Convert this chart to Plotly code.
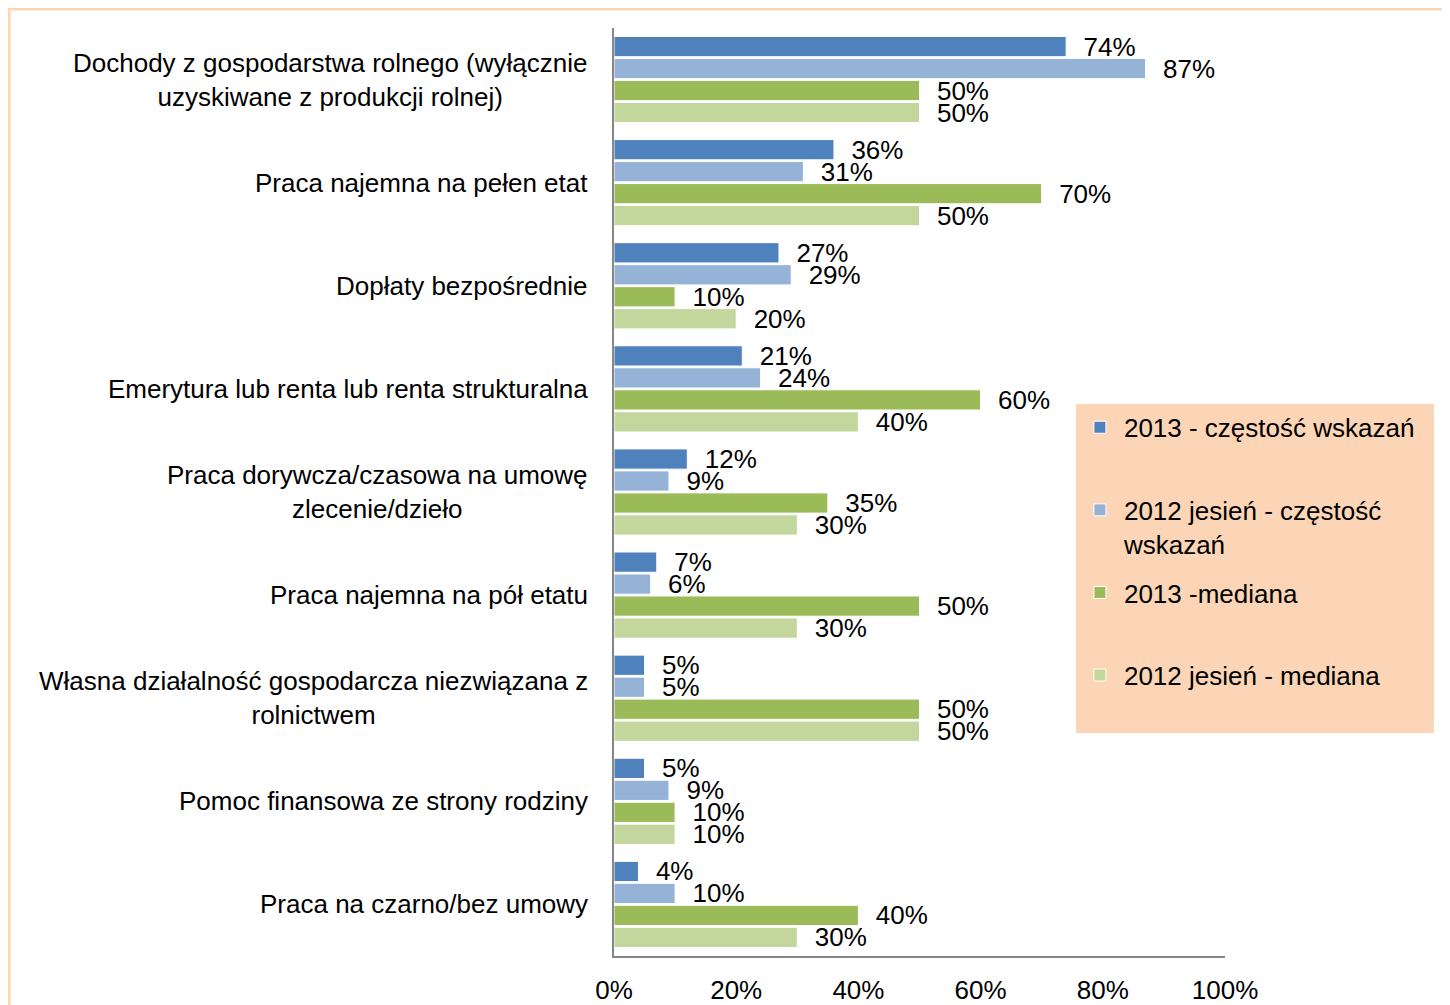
import plotly.graph_objects as go

categories = [
    "Dochody z gospodarstwa rolnego (wyłącznie<br>uzyskiwane z produkcji rolnej)",
    "Praca najemna na pełen etat",
    "Dopłaty bezpośrednie",
    "Emerytura lub renta lub renta strukturalna",
    "Praca dorywcza/czasowa na umowę<br>zlecenie/dzieło",
    "Praca najemna na pół etatu",
    "Własna działalność gospodarcza niezwiązana z<br>rolnictwem",
    "Pomoc finansowa ze strony rodziny",
    "Praca na czarno/bez umowy",
]

series_names = [
    "2013 - częstość wskazań\u00a0\u00a0",
    "2012 jesień - częstość<br>wskazań",
    "2013 -mediana",
    "2012 jesień - mediana",
]

freq_2013 = [74, 36, 27, 21, 12, 7, 5, 5, 4]
freq_2012 = [87, 31, 29, 24, 9, 6, 5, 9, 10]
median_2013 = [50, 70, 10, 60, 35, 50, 50, 10, 40]
median_2012 = [50, 50, 20, 40, 30, 30, 50, 10, 30]

colors = ["#4F81BD", "#95B3D7", "#9BBB59", "#C3D69B"]

FONT = "Arial, Liberation Sans, sans-serif"
FS = 26

fig = go.Figure()
for i, (name, vals) in enumerate(zip(series_names, [freq_2013, freq_2012, median_2013, median_2012])):
    legend_name = name if "<br>" in name else name + "<br> "
    fig.add_trace(go.Bar(
        y=categories, x=vals, orientation="h", name=legend_name,
        legendgroup=f"g{i}",
        marker=dict(color=colors[i], line=dict(color="white", width=1)),
        text=[f"\u00a0\u00a0{v}%" for v in vals],
        textposition="outside", constraintext="none", cliponaxis=False,
        textfont=dict(family=FONT, size=FS, color="black"),
        hoverinfo="skip",
    ))

for c in categories:
    fig.add_annotation(
        x=0, xref="paper", y=c, yref="y", text=c, showarrow=False,
        xanchor="right", yanchor="middle", xshift=-24, align="center",
        font=dict(family=FONT, size=FS, color="black"),
    )

# outer chart border (top and left edges visible)
fig.add_shape(type="rect", xref="paper", yref="paper",
              x0=-0.990, x1=1.5, y0=-0.2, y1=1.0205,
              line=dict(color="#FBD5B5", width=3), layer="below")

fig.update_layout(
    width=1450, height=1005,
    margin=dict(l=606, r=233, t=20, b=57),
    barmode="group", bargap=0.147, bargroupgap=0.08,
    plot_bgcolor="white", paper_bgcolor="white",
    font=dict(family=FONT, size=FS, color="black"),
    showlegend=True,
    legend=dict(
        x=0.756, xanchor="left", y=0.595, yanchor="top",
        bgcolor="#FBD5B5", borderwidth=0, itemwidth=38,
        font=dict(family=FONT, size=FS, color="black"),
        traceorder="grouped", tracegroupgap=12, valign="top",
    ),
)
fig.update_xaxes(
    range=[0, 100], dtick=20, ticksuffix="%", showgrid=False, zeroline=False,
    showline=True, linecolor="#868686", linewidth=2, ticks="",
    ticklabelstandoff=10, automargin=False,
    tickfont=dict(family=FONT, size=FS, color="black"),
)
fig.update_yaxes(
    autorange="reversed", showticklabels=False, showgrid=False,
    showline=True, linecolor="#868686", linewidth=2, ticks="",
    automargin=False,
)

fig.write_html("out.html")
